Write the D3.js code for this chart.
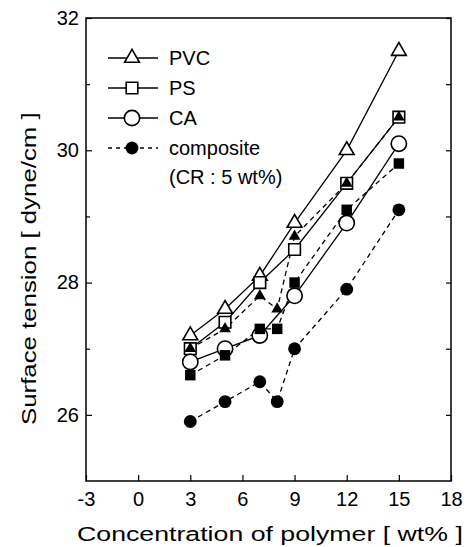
<!DOCTYPE html>
<html>
<head>
<meta charset="utf-8">
<script src="https://cdn.jsdelivr.net/npm/d3@7"></script>
<style>
  body { margin: 0; background: #fff; }
  text { font-family: "Liberation Sans", Arial, sans-serif; fill: #000; }
</style>
</head>
<body>
<div id="chart"></div>
<script>
// data
var concOpen = [3, 5, 7, 9, 12, 15];
var pvc = [27.2, 27.6, 28.1, 28.9, 30.0, 31.5];
var ps  = [27.0, 27.4, 28.0, 28.5, 29.5, 30.5];
var ca  = [26.8, 27.0, 27.2, 27.8, 28.9, 30.1];

var concComp = [3, 5, 7, 8, 9, 12, 15];
var compPVC = [27.0, 27.3, 27.8, 27.6, 28.7, 29.5, 30.5];
var compPS  = [26.6, 26.9, 27.3, 27.3, 28.0, 29.1, 29.8];
var compCA  = [25.9, 26.2, 26.5, 26.2, 27.0, 27.9, 29.1];

var xTicks = [-3, 0, 3, 6, 9, 12, 15, 18];
var yTicks = [26, 28, 30, 32];
var yMinor = [27, 29, 31];
var legendLabels = ["PVC", "PS", "CA", "composite"];

var W = 468, H = 547;
var margin = {top: 18, right: 17, bottom: 66, left: 86};
var width = W - margin.left - margin.right,
    height = H - margin.top - margin.bottom;

var svg = d3.select("#chart").append("svg")
    .attr("width", W)
    .attr("height", H)
  .append("g")
    .attr("transform", "translate(" + margin.left + "," + margin.top + ")");

var x = d3.scaleLinear().domain([-3, 18]).range([0, width]);
var y = d3.scaleLinear().domain([25, 32]).range([height, 0]);

// frame
svg.append("rect")
    .attr("width", width).attr("height", height)
    .attr("fill", "none").attr("stroke", "#000").attr("stroke-width", 1.5);

var fmt = function(d) { return String(d); };

// axes with inward ticks
var xAxis = svg.append("g")
    .attr("transform", "translate(0," + height + ")")
    .call(d3.axisBottom(x).tickValues(xTicks).tickFormat(fmt).tickSizeInner(-6).tickSizeOuter(0).tickPadding(11));
var yAxis = svg.append("g")
    .call(d3.axisLeft(y).tickValues(yTicks).tickFormat(fmt).tickSizeInner(-6).tickSizeOuter(0).tickPadding(7));
svg.append("g")
    .call(d3.axisLeft(y).tickValues(yMinor).tickSizeInner(-4).tickSizeOuter(0).tickFormat(""));
svg.append("g")
    .attr("transform", "translate(" + width + ",0)")
    .call(d3.axisRight(y).tickValues(yTicks.concat(yMinor)).tickSizeInner(-5).tickSizeOuter(0).tickFormat(""));
svg.selectAll(".domain").remove();
svg.selectAll(".tick line").attr("stroke", "#000").attr("stroke-width", 1.2);
xAxis.selectAll("text").style("font-size", "20px");
yAxis.selectAll("text").style("font-size", "20px");

// axis titles, stretched horizontally to the width seen in the figure
function stretched(g, label, len) {
  var t = g.append("text").style("font-size", "21px").text(label);
  var k = len / t.node().getComputedTextLength();
  t.attr("transform", "scale(" + k + ",1)");
  return t;
}
stretched(svg.append("g").attr("transform", "translate(-9," + (height + 60) + ")"),
    "Concentration of polymer [ wt% ]", 386);
stretched(svg.append("g").attr("transform", "translate(-50," + (425 - margin.top) + ") rotate(-90)"),
    "Surface tension [ dyne/cm ]", 313);

var sym = {
  tri: d3.symbol().type(d3.symbolTriangle).size(95),
  sq: d3.symbol().type(d3.symbolSquare).size(135),
  circ: d3.symbol().type(d3.symbolCircle).size(185),
  triF: d3.symbol().type(d3.symbolTriangle).size(60),
  sqF: d3.symbol().type(d3.symbolSquare).size(110),
  circF: d3.symbol().type(d3.symbolCircle).size(130)
};

function pts(xs, ys) {
  return xs.map(function(d, i) { return {x: d, y: ys[i]}; });
}

var line = d3.line()
    .x(function(d) { return x(d.x); })
    .y(function(d) { return y(d.y); });

var openSeries = [pts(concOpen, pvc), pts(concOpen, ps), pts(concOpen, ca)];
var compSeries = [pts(concComp, compPVC), pts(concComp, compPS), pts(concComp, compCA)];
var openSym = [sym.tri, sym.sq, sym.circ];
var fillSym = [sym.triF, sym.sqF, sym.circF];

// dashed composite lines
compSeries.forEach(function(s) {
  svg.append("path").datum(s)
      .attr("d", line)
      .attr("fill", "none").attr("stroke", "#000")
      .attr("stroke-width", 1.3).attr("stroke-dasharray", "5,4");
});

// solid lines
openSeries.forEach(function(s) {
  svg.append("path").datum(s)
      .attr("d", line)
      .attr("fill", "none").attr("stroke", "#000").attr("stroke-width", 1.3);
});

// open markers
openSeries.forEach(function(s, k) {
  svg.selectAll(null).data(s).enter().append("path")
      .attr("d", openSym[k])
      .attr("transform", function(d) { return "translate(" + x(d.x) + "," + y(d.y) + ")"; })
      .attr("fill", "#fff").attr("stroke", "#000").attr("stroke-width", 1.6);
});

// filled markers
compSeries.forEach(function(s, k) {
  svg.selectAll(null).data(s).enter().append("path")
      .attr("d", fillSym[k])
      .attr("transform", function(d) { return "translate(" + x(d.x) + "," + y(d.y) + ")"; })
      .attr("fill", "#000");
});

// legend
var legend = svg.append("g").attr("transform", "translate(22,40)");
legendLabels.forEach(function(lab, i) {
  var g = legend.append("g").attr("transform", "translate(0," + (i * 30) + ")");
  g.append("line")
      .attr("x1", 0).attr("x2", 50)
      .attr("stroke", "#000").attr("stroke-width", 1.3)
      .attr("stroke-dasharray", i === 3 ? "4,4" : null);
  var s = [sym.tri, sym.sq, sym.circ, sym.circF][i];
  g.append("path")
      .attr("d", s)
      .attr("transform", "translate(24,0)")
      .attr("fill", i === 3 ? "#000" : "#fff")
      .attr("stroke", i === 3 ? "none" : "#000").attr("stroke-width", 1.6);
  g.append("text")
      .attr("x", 61).attr("y", 7)
      .style("font-size", "20px")
      .text(lab);
});
legend.append("text")
    .attr("x", 61).attr("y", 126)
    .style("font-size", "20px")
    .text("(CR : 5 wt%)");
</script>
</body>
</html>
